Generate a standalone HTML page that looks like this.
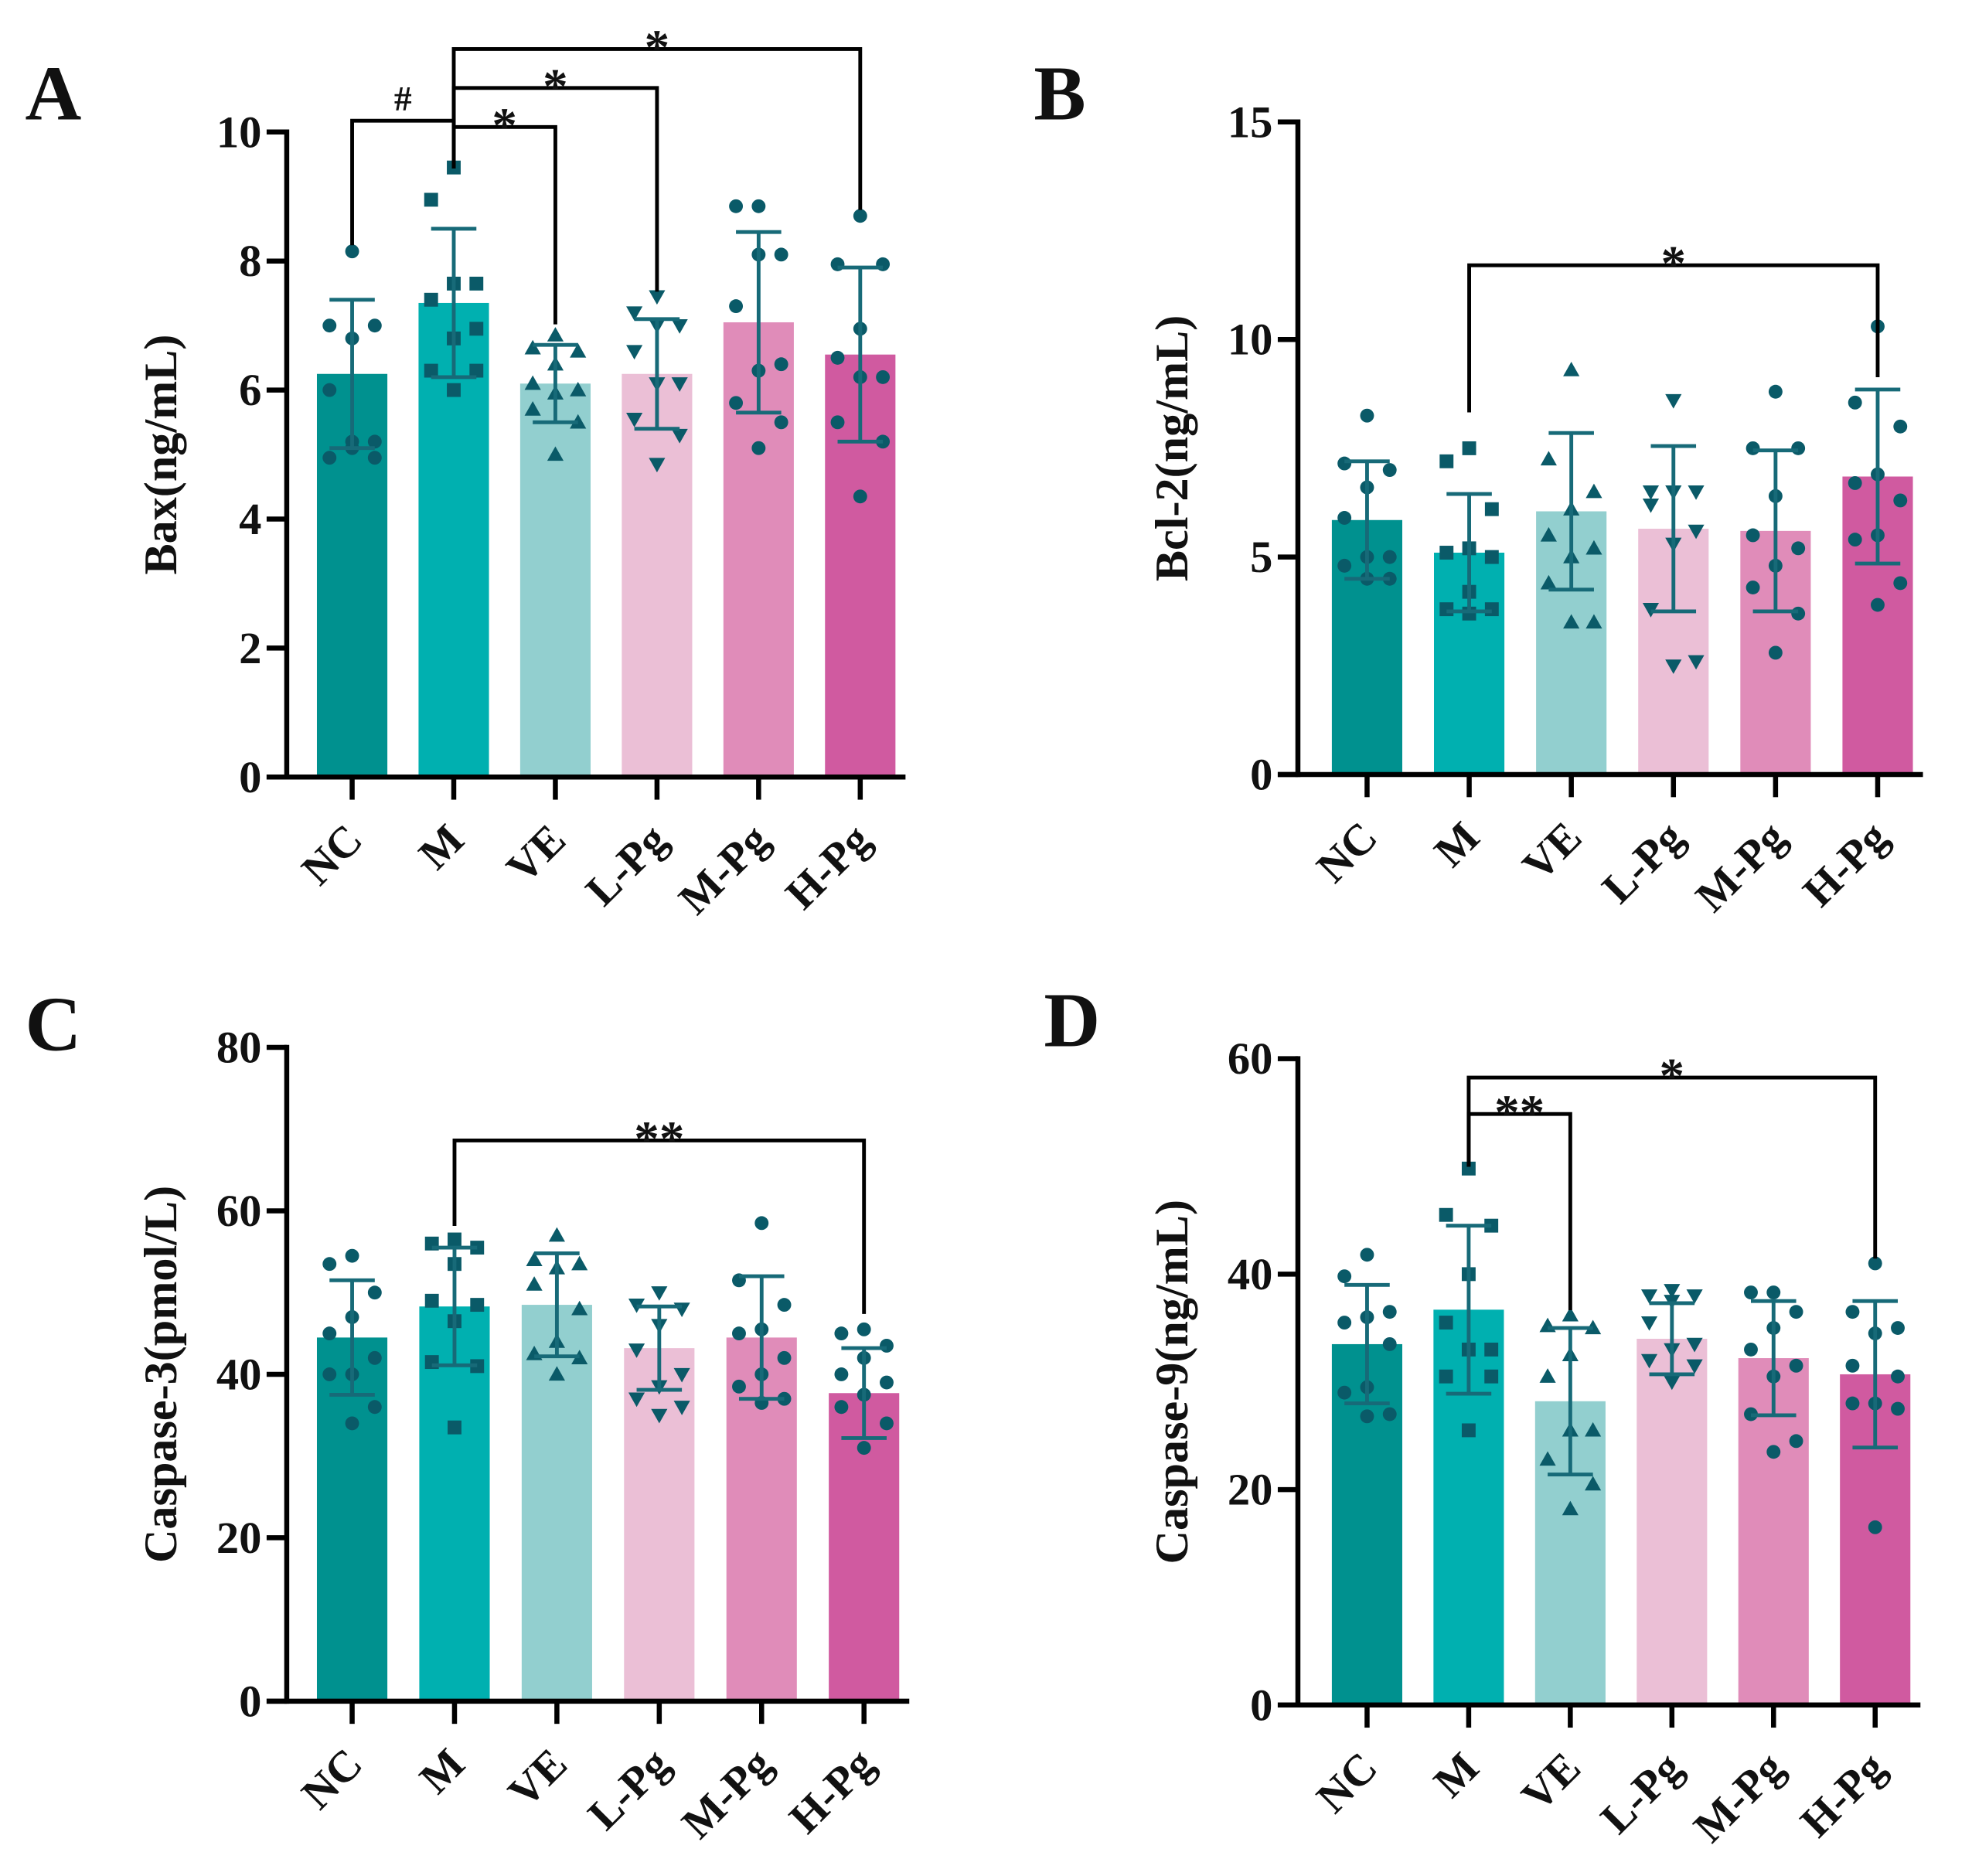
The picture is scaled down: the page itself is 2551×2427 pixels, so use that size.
<!DOCTYPE html>
<html><head><meta charset="utf-8"><style>
html,body{margin:0;padding:0;background:#fff;}
svg{display:block;}
svg text{font-family:"Liberation Serif","Times New Roman",serif;font-weight:700;fill:#111;}
</style></head><body>
<svg id="fig" width="2551" height="2427" viewBox="0 0 1568 1492" preserveAspectRatio="none" xmlns="http://www.w3.org/2000/svg" font-family="Liberation Serif, serif" font-weight="bold"></svg>
<script>
const groups = ["NC","M","VE","L-Pg","M-Pg","H-Pg"];
const colors = ["#00918f","#00b0b0","#92cfcf","#ebbfd6","#e08cb9","#d05aa0"];
const markers = ["circle","square","triangle","tridown","circle","circle"];

const baxMeans = [6.25,7.35,6.1,6.25,7.05,6.55];
const baxSD = [1.15,1.15,0.6,0.85,1.4,1.35];
const baxPoints = [
 [8.15,7.0,7.0,6.8,6.0,5.2,5.1,4.95,4.95,5.2],
 [9.45,8.95,7.65,7.65,7.4,6.95,6.8,6.3,6.3,6.0],
 [6.85,6.65,6.6,6.4,6.1,6.0,5.95,5.7,5.5,5.0],
 [7.45,7.2,7.0,7.0,6.6,6.1,6.1,5.55,5.3,4.85],
 [8.85,8.85,8.1,8.1,7.3,6.4,6.3,5.8,5.5,5.1],
 [8.7,7.95,7.95,6.95,6.5,6.2,6.2,5.5,5.2,4.35]];
const baxTicks = [0,2,4,6,8,10];

const bclMeans = [5.85,5.1,6.05,5.65,5.6,6.85];
const bclSD = [1.35,1.35,1.8,1.9,1.85,2.0];
const bclPoints = [
 [8.25,7.15,7.0,6.6,5.9,5.0,5.0,4.8,4.5,4.5],
 [7.5,7.2,6.1,5.2,5.1,5.0,4.2,3.8,3.8,3.7],
 [9.3,7.25,6.5,6.1,5.5,5.2,5.0,4.4,3.5,3.5],
 [8.6,6.5,6.5,6.5,6.2,5.6,5.3,3.8,2.6,2.5],
 [8.8,7.5,7.5,6.4,5.5,5.2,4.8,4.3,3.7,2.8],
 [10.3,8.55,8.0,6.9,6.7,6.3,5.5,5.4,4.4,3.9]];
const bclTicks = [0,5,10,15];

const cas3Means = [44.5,48.3,48.5,43.2,44.5,37.7];
const cas3SD = [7,7.2,6.3,5.1,7.5,5.5];
const cas3Points = [
 [54.5,53.5,50,47,45,42,40,40,36,34],
 [56.5,56,55.5,53.5,49,48.5,46.5,41.5,41,33.5],
 [57,54,53.5,53,51,48,44,42.5,42,40],
 [50,48.5,48,46,43,40,38.5,37,36,35],
 [58.5,51.5,48.5,45.5,45,42,40,38.5,37,36.5],
 [45.5,45,43.5,42,40,39,37.5,36,34,31]];
const cas3Ticks = [0,20,40,60,80];

const cas9Means = [33.5,36.7,28.2,34,32.2,30.7];
const cas9SD = [5.5,7.8,6.8,3.3,5.3,6.8];
const cas9Points = [
 [41.8,39.8,36.5,36.0,35.5,33.5,29.5,29.0,27.0,26.8],
 [49.8,45.5,44.5,40.0,35.5,33.0,33.0,30.5,30.5,25.5],
 [36.2,35.2,35.0,32.5,30.5,25.5,25.5,22.8,20.5,18.2],
 [38.5,38.0,38.0,37.5,35.5,33.5,33.0,32.0,31.5,30.0],
 [38.3,38.3,36.5,35.0,33.0,31.5,30.5,27.0,24.5,23.5],
 [41.0,36.5,35.0,34.5,31.5,30.5,28.0,28.0,27.5,16.5]];
const cas9Ticks = [0,20,40,60];

const NS="http://www.w3.org/2000/svg";
const svg=document.getElementById('fig');
const jit=[0,-18,18,0,-18,18,0,-18,18,0];
function mk(tag,attrs,parent){const e=document.createElementNS(NS,tag);for(const k in attrs)e.setAttribute(k,attrs[k]);(parent||svg).appendChild(e);return e;}

function panel(P){
  const g=mk('g',{});
  
  
  const ymax=P.ticks[P.ticks.length-1];
  const y=v=>P.y0-(v/ymax)*(P.y0-P.ytop);
  const x=i=>P.x0+P.step*i;
  const lt=mk('text',{x:P.lx,y:P.ly,'font-size':62},g);lt.textContent=P.id;
  
  
  P.means.forEach((m,i)=>{
    const r=mk('rect',{x:x(i)-28,y:y(m),width:56,height:P.y0-y(m),fill:colors[i]},g);
    
    
  });
  P.pts.forEach((arr,i)=>{
    arr.forEach((v,k)=>{
      const cx=x(i)+jit[k],cy=y(v),c='#0a5a68';let e;
      if(markers[i]=='circle')e=mk('circle',{cx:cx,cy:cy,r:5.5,fill:c},g);
      else if(markers[i]=='square')e=mk('rect',{x:cx-5.5,y:cy-5.5,width:11,height:11,fill:c},g);
      else if(markers[i]=='triangle')e=mk('polygon',{points:`${cx},${cy-6.5} ${cx-6.5},${cy+5} ${cx+6.5},${cy+5}`,fill:c},g);
      else e=mk('polygon',{points:`${cx},${cy+6.5} ${cx-6.5},${cy-5} ${cx+6.5},${cy-5}`,fill:c},g);
      
      
    });
  });
  P.means.forEach((m,i)=>{
    const eg=mk('g',{stroke:'#176a78','stroke-width':3,fill:'none'},g);
    
    
    mk('line',{x1:x(i),x2:x(i),y1:y(m-P.sd[i]),y2:y(m+P.sd[i])},eg);
    mk('line',{x1:x(i)-18,x2:x(i)+18,y1:y(m-P.sd[i]),y2:y(m-P.sd[i])},eg);
    mk('line',{x1:x(i)-18,x2:x(i)+18,y1:y(m+P.sd[i]),y2:y(m+P.sd[i])},eg);
  });
  const ax=mk('g',{stroke:'#000','stroke-width':4},g);
  
  
  mk('line',{x1:P.ax,x2:P.ax,y1:P.ytop-2,y2:P.y0+2},ax);
  mk('line',{x1:P.ax-16,x2:x(5)+36,y1:P.y0,y2:P.y0},ax);
  P.ticks.forEach(t=>{
    mk('line',{x1:P.ax-16,x2:P.ax,y1:y(t),y2:y(t)},ax);
    const tt=mk('text',{x:P.ax-20,y:y(t)+12,'font-size':36,'text-anchor':'end'},g);tt.textContent=t;
    
    
  });
  groups.forEach((n,i)=>{
    mk('line',{x1:x(i),x2:x(i),y1:P.y0,y2:P.y0+18},ax);
    const tx=x(i)+10,ty=P.y0+52;
    const tl=mk('text',{x:tx,y:ty,'font-size':35,'text-anchor':'end',transform:`rotate(-45 ${tx} ${ty})`},g);tl.textContent=n;
    
    
  });
  const cy=(P.ytop+P.y0)/2;
  const yt=mk('text',{x:P.tx,y:cy,'font-size':37,'text-anchor':'middle',transform:`rotate(-90 ${P.tx} ${cy})`},g);yt.textContent=P.title;
  
  
  P.br.forEach(b=>{
    const bg=mk('g',{stroke:'#000','stroke-width':3,fill:'none'},g);
    
    
    mk('polyline',{points:`${x(b.a)},${b.ya} ${x(b.a)},${b.top} ${x(b.b)},${b.top} ${x(b.b)},${b.yb}`},bg);
    const st=mk('text',{x:(x(b.a)+x(b.b))/2,y:b.top-(b.s=='#'?8:-12),'font-size':b.s=='#'?28:40,'text-anchor':'middle'},g);st.textContent=b.s;
    
    
  });
}
panel({id:'A',lx:20,ly:95,ax:228,x0:280,step:80.8,y0:618,ytop:105,ticks:baxTicks,means:baxMeans,sd:baxSD,pts:baxPoints,title:'Bax(ng/mL)',tx:140,
 br:[{a:0,b:1,top:96,ya:195,yb:132,s:'#'},{a:1,b:2,top:101,ya:134,yb:258,s:'*'},{a:1,b:3,top:70,ya:134,yb:232,s:'*'},{a:1,b:5,top:39,ya:134,yb:167,s:'*'}]});
panel({id:'B',lx:822,ly:95,ax:1032,x0:1087,step:81.2,y0:616,ytop:97,ticks:bclTicks,means:bclMeans,sd:bclSD,pts:bclPoints,title:'Bcl-2(ng/mL)',tx:944,
 br:[{a:1,b:5,top:211,ya:328,yb:300,s:'*'}]});
panel({id:'C',lx:20,ly:835,ax:228,x0:280,step:81.4,y0:1353,ytop:833,ticks:cas3Ticks,means:cas3Means,sd:cas3SD,pts:cas3Points,title:'Caspase-3(pmol/L)',tx:140,
 br:[{a:1,b:5,top:907,ya:975,yb:1045,s:'**'}]});
panel({id:'D',lx:830,ly:832,ax:1032,x0:1087,step:80.8,y0:1356,ytop:842,ticks:cas9Ticks,means:cas9Means,sd:cas9SD,pts:cas9Points,title:'Caspase-9(ng/mL)',tx:944,
 br:[{a:1,b:2,top:886,ya:928,yb:1042,s:'**'},{a:1,b:5,top:857,ya:928,yb:1001,s:'*'}]});
</script>
</body></html>
